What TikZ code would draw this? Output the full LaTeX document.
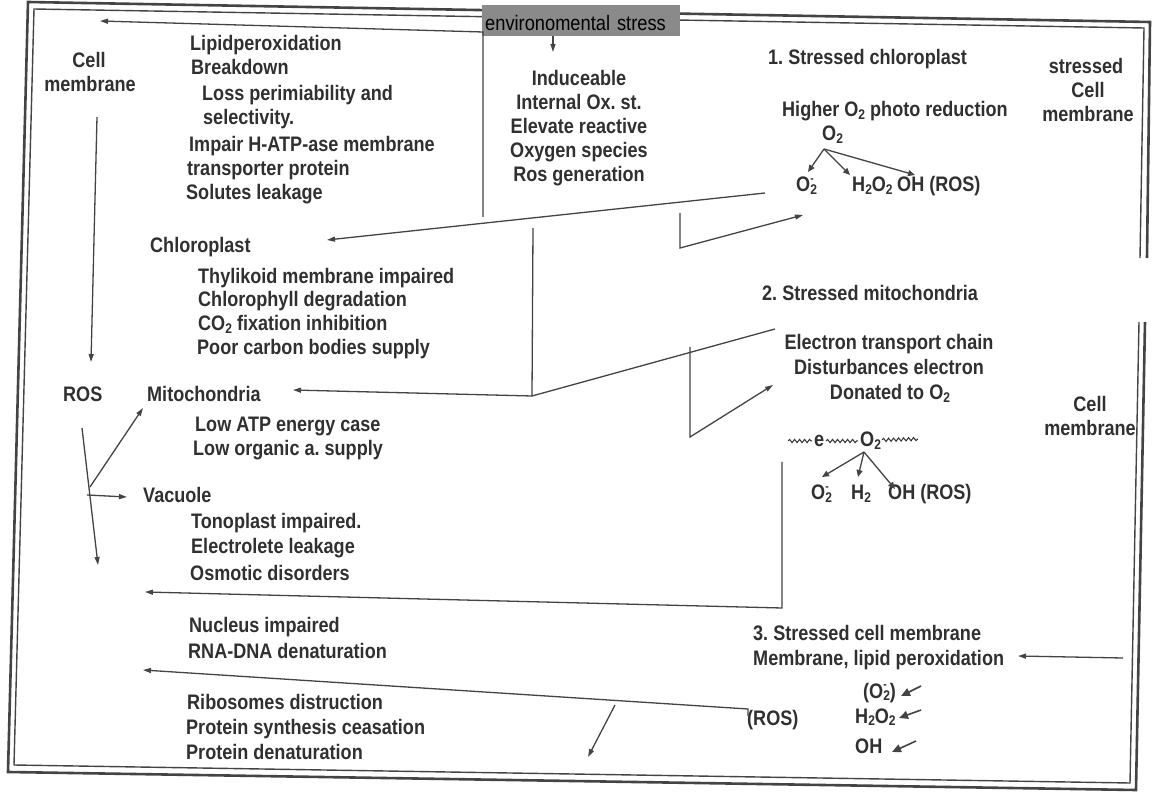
\documentclass[tikz,border=0pt]{standalone}
\usepackage{fontspec}
\setmainfont{Liberation Sans}
\newfontfamily\narrowfont[FakeStretch=0.87]{Liberation Sans}
\newfontfamily\bodyfam[FakeStretch=0.86]{Liberation Sans}
\usetikzlibrary{arrows.meta,decorations.pathmorphing}
\definecolor{ink}{RGB}{48,48,48}
\definecolor{linec}{RGB}{68,68,68}
\definecolor{boxgray}{RGB}{138,138,138}
\newcommand\bodyfont{\bodyfam\bfseries\fontsize{21}{24}\selectfont}
\newcommand\subs[1]{\raisebox{-0.25ex}{\fontsize{14}{14}\selectfont #1}}
\newcommand\sups[1]{\raisebox{0.85ex}{\fontsize{12}{12}\selectfont #1}}
\newcommand\Ominus{O\rlap{\sups{-}}\subs{2}}
\newcommand\Otwo{O\subs{2}}
\begin{document}
\begin{tikzpicture}[x=1pt,y=-1pt,
 txt/.style={anchor=base west,inner sep=0pt,font=\bodyfont,text=ink},
 ctxt/.style={anchor=base,inner sep=0pt,font=\bodyfont,text=ink},
 conn/.style={draw=linec,line width=1.3pt},
 arr/.style={conn,-{Triangle[length=8pt,width=5pt]}},
 sarr/.style={conn,-{Triangle[length=7pt,width=6pt]}},
 barr/.style={conn,line width=1.6pt,-{Triangle[length=9pt,width=8pt]}},
 frameout/.style={draw=linec,line width=2.6pt},
 framein/.style={draw=linec,line width=1.4pt},
 wave/.style={draw=ink,line width=1pt,decorate,decoration={snake,segment length=5pt,amplitude=1.6pt}}
]
\useasboundingbox (0,0) rectangle (1152,799);
\fill[white] (0,0) rectangle (1152,799);

% frame (double border, gap on the right)
\draw[frameout] (1147,258) -- (1150,22) -- (28,2) -- (8,772) -- (1136,790) -- (1145,322);
\draw[framein] (1140,258) -- (1144,28) -- (34,9) -- (14,765) -- (1130,783) -- (1139,322);

% environmental stress box
\node[name=env, anchor=base west, fill=boxgray, inner xsep=3pt, inner ysep=0pt,
      text height=26pt, text depth=5pt, text width=192pt, align=left,
      font=\narrowfont\fontsize{21}{22}\selectfont, text=black] at (482,31) {environomental stress};
\coordinate (envdown) at (553,52);
\draw[arr] (env.south -| envdown) -- (envdown);

% ---------------- left column ----------------
\node[ctxt] (cm1) at (89,68) {Cell};
\node[ctxt] (cm2) at (90,92) {membrane};

\node[txt] (lp1) at (190,51) {Lipidperoxidation};
\node[txt] (lp2) at (191,75) {Breakdown};
\node[txt] (lp3) at (202,101) {Loss perimiability and};
\node[txt] (lp4) at (203,125) {selectivity.};
\node[txt] (lp5) at (189,152) {Impair H-ATP-ase membrane};
\node[txt] (lp6) at (187,176) {transporter protein};
\node[txt] (lp7) at (186,200) {Solutes leakage};

\node[txt] (ch0) at (150,253) {Chloroplast};
\node[txt] (ch1) at (198,284) {Thylikoid membrane impaired};
\node[txt] (ch2) at (198,307) {Chlorophyll degradation};
\node[txt] (ch3) at (198,331) {CO\subs{2} fixation inhibition};
\node[txt] (ch4) at (197,355) {Poor carbon bodies supply};

\node[txt] (ros) at (63,402) {ROS};
\node[txt] (mi0) at (147,402) {Mitochondria};
\node[txt] (mi1) at (195,432) {Low ATP energy case};
\node[txt] (mi2) at (193,456) {Low organic a.\ supply};

\node[txt] (va0) at (143,503) {Vacuole};
\node[txt] (va1) at (191,529) {Tonoplast impaired.};
\node[txt] (va2) at (191,554) {Electrolete leakage};
\node[txt] (va3) at (190,580) {Osmotic disorders};

\node[txt] (nu1) at (189,632) {Nucleus impaired};
\node[txt] (nu2) at (188,658) {RNA-DNA denaturation};

\node[txt] (ri1) at (187,709) {Ribosomes distruction};
\node[txt] (ri2) at (186,734) {Protein synthesis ceasation};
\node[txt] (ri3) at (186,759) {Protein denaturation};

% ---------------- centre ----------------
\node[ctxt] (in1) at (579,86) {Induceable};
\node[ctxt] (in2) at (579,110) {Internal Ox.\ st.};
\node[ctxt] (in3) at (579,134) {Elevate reactive};
\node[ctxt] (in4) at (579,158) {Oxygen species};
\node[ctxt] (in5) at (579,182) {Ros generation};

% ---------------- right column ----------------
\node[txt] (sc0) at (768,65) {1.\ Stressed chloroplast};
\node[txt] (sc1) at (782,117) {Higher \Otwo{} photo reduction};
\node[txt] (sc2) at (822,141) {\Otwo};
\node[txt] (sc3) at (796,192) {\Ominus};
\node[txt] (sc4) at (852,192) {H\subs{2}O\subs{2}};
\node[txt] (sc5) at (897,192) {OH (ROS)};

\node[ctxt] (scm1) at (1086,74) {stressed};
\node[ctxt] (scm2) at (1088,98) {Cell};
\node[ctxt] (scm3) at (1088,122) {membrane};

\node[txt] (sm0) at (762,301) {2.\ Stressed mitochondria};
\node[ctxt] (sm1) at (889,350) {Electron transport chain};
\node[ctxt] (sm2) at (889,375) {Disturbances electron};
\node[ctxt] (sm3) at (890,400) {Donated to \Otwo};
\node[txt] (sme) at (814,447) {e};
\node[txt] (smo) at (860,447) {\Otwo};
\node[txt] (sm4) at (811,500) {\Ominus};
\node[txt] (sm5) at (851,500) {H\subs{2}};
\node[txt] (sm6) at (888,500) {OH (ROS)};

\node[ctxt] (rcm1) at (1090,412) {Cell};
\node[ctxt] (rcm2) at (1090,436) {membrane};

\node[txt] (st0) at (753,640) {3.\ Stressed cell membrane};
\node[txt] (st1) at (753,665) {Membrane, lipid peroxidation};
\node[txt] (st2) at (863,698) {(\Ominus)};
\node[txt] (st3) at (855,723) {H\subs{2}O\subs{2}};
\node[txt] (st4) at (855,753) {OH};
\node[txt] (st5) at (747,725) {(ROS)};

% ---------------- coordinates ----------------
\coordinate (vA1) at (483,217);
\coordinate (vA2) at (483,32);
\coordinate (cmTip) at (100,21);
\coordinate (chTail) at (765,193);
\coordinate (chTip) at (327,240);
\coordinate (vB1) at (680,213);
\coordinate (vB2) at (680,248);
\coordinate (scTip) at (803,215);
\coordinate (vC1) at (533,228);
\coordinate (vC2) at (532,396);
\coordinate (miTip) at (293,390);
\coordinate (smTail) at (775,329);
\coordinate (vD1) at (690,347);
\coordinate (vD2) at (690,437);
\coordinate (smTip) at (773,385);
\coordinate (vE1) at (782,462);
\coordinate (vE2) at (782,608);
\coordinate (vaTip) at (145,592);
\coordinate (vF1) at (748,716);
\coordinate (vF2) at (748,709);
\coordinate (nuTip) at (143,670);
\coordinate (sTail) at (615,705);
\coordinate (sTip) at (588,757);
\coordinate (rTail) at (1123,658);
\coordinate (rTip) at (1018,656);
\coordinate (cmA) at (97,117);
\coordinate (cmB) at (91,362);
\coordinate (rosA) at (82,428);
\coordinate (rosB) at (98,565);
\coordinate (jA) at (90,487);
\coordinate (miLTip) at (143,408);
\coordinate (jB) at (87,495);
\coordinate (vaLTip) at (127,497);

% ---------------- connectors ----------------
\draw[arr] (vA1) -- (vA2) -- (cmTip);
\draw[arr] (chTail) -- (chTip);
\draw[arr] (vB1) -- (vB2) -- (scTip);
\draw[arr] (vC1) -- (vC2) -- (miTip);
\draw[conn] (vC2) -- (smTail);
\draw[arr] (vD1) -- (vD2) -- (smTip);
\draw[arr] (vE1) -- (vE2) -- (vaTip);
\draw[arr] (vF1) -- (vF2) -- (nuTip);
\draw[arr] (sTail) -- (sTip);
\draw[arr] (rTail) -- (rTip);

\draw[arr] (cmA) -- (cmB);
\draw[arr] (rosA) -- (rosB);
\draw[arr] (jA) -- (miLTip);
\draw[arr] (jB) -- (vaLTip);

% O2 branching (chloroplast)
\coordinate (o2a) at (824,149);
\draw[sarr] (o2a) -- (808,172);
\draw[sarr] (o2a) -- (850,175);
\draw[sarr] (o2a) -- (915,175);

% wavy electron chain
\draw[wave] (788,441) -- (812,441);
\draw[wave] (826,441) -- (858,441);
\draw[wave] (882,440) -- (918,439);
\coordinate (o2b) at (864,452);
\draw[sarr] (o2b) -- (822,477);
\draw[sarr] (o2b) -- (858,477);
\draw[sarr] (o2b) -- (895,489);

% small arrows, stressed cell membrane
\draw[barr] (921,686) -- (901,696);
\draw[barr] (921,710) -- (899,718);
\draw[barr] (916,741) -- (892,752);
\end{tikzpicture}
\end{document}
